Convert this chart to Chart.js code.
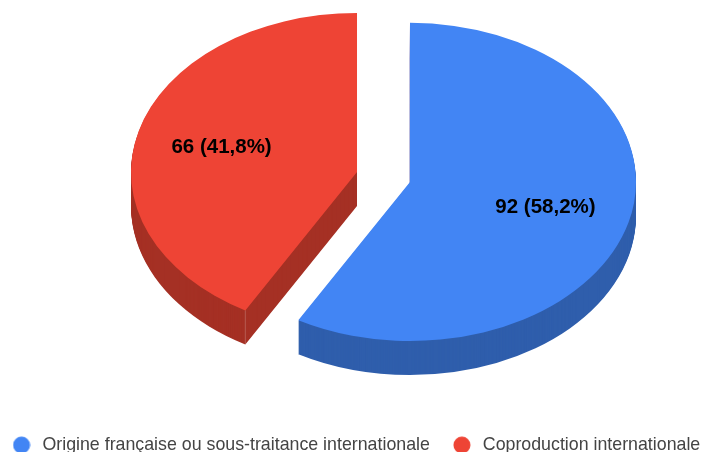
<!DOCTYPE html>
<html>
<head>
<meta charset="utf-8">
<style>
  html, body { margin: 0; padding: 0; background: #fff; overflow: hidden; }
  canvas { display: block; }
</style>
<script src="https://cdn.jsdelivr.net/npm/chart.js@4"></script>
</head>
<body>
<canvas id="pie3d" width="703" height="452"></canvas>
<script>
const categories = ['Origine française ou sous-traitance internationale', 'Coproduction internationale'];
const values = [92, 66];
const sliceLabels = ['92 (58,2%)', '66 (41,8%)'];
const topColors = ['#4285f4', '#ee4435'];
const wallColors = ['#2f5eac', '#a53024'];

// fake 3D: squash the pie and pile darker copies under it
const TILT = 0.704;
const DEPTH = 34;
const EXPLODE = 27.4;
const CENTER_X = 383.5;
const CENTER_Y = 177;
const FONT = '"Liberation Sans", Arial, sans-serif';

function pieCenter(chart) {
    const area = chart.chartArea;
    return { x: (area.left + area.right) / 2, y: (area.top + area.bottom) / 2 };
}

function tilt(ctx, chart) {
    const c = pieCenter(chart);
    ctx.translate(CENTER_X, CENTER_Y);
    ctx.scale(1, TILT);
    ctx.translate(-c.x, -c.y);
}

// round legend dot; a wide pointStyleWidth would turn the plain 'circle' into an ellipse
function legendDot(color) {
    const dot = document.createElement('canvas');
    dot.width = 18;
    dot.height = 18;
    const dc = dot.getContext('2d');
    dc.fillStyle = color;
    dc.beginPath();
    dc.arc(9, 9, 8.5, 0, Math.PI * 2);
    dc.fill();
    return dot;
}

const pie3d = {
    id: 'pie3d',
    afterLayout(chart) {
        // padding stays small while the legend measures itself or it wraps in two lines,
        // the real gap goes back in after that
        const legend = chart.legend;
        legend.options.labels.padding = 20;
        legend.top += 2;
        legend.bottom += 2;
        legend.left -= 53.2;
        legend.right += 40;
    },
    afterDatasetsUpdate(chart) {
        // chart.js's own offset also grows the radius, so pull the slices apart here
        const c = pieCenter(chart);
        chart.getDatasetMeta(0).data.forEach(arc => {
            const mid = (arc.startAngle + arc.endAngle) / 2;
            arc.x = c.x + Math.cos(mid) * EXPLODE;
            arc.y = c.y + Math.sin(mid) * EXPLODE;
        });
    },
    beforeDatasetsDraw(chart) {
        const ctx = chart.ctx;
        ctx.save();
        tilt(ctx, chart);
        chart.getDatasetMeta(0).data.forEach((arc, i) => {
            ctx.fillStyle = wallColors[i];
            for (let d = DEPTH; d > 0; d--) {
                const y = arc.y + d / TILT;
                ctx.beginPath();
                ctx.moveTo(arc.x, y);
                ctx.arc(arc.x, y, arc.outerRadius, arc.startAngle, arc.endAngle);
                ctx.closePath();
                ctx.fill();
            }
        });
    },
    afterDatasetsDraw(chart) {
        const ctx = chart.ctx;
        const arcs = chart.getDatasetMeta(0).data;
        // faint highlight on the front corner of the red slice
        const red = arcs[1];
        const cx = red.x + Math.cos(red.startAngle) * red.outerRadius;
        const cy = red.y + Math.sin(red.startAngle) * red.outerRadius;
        ctx.strokeStyle = 'rgba(255,255,255,0.25)';
        ctx.lineWidth = 1;
        ctx.beginPath();
        ctx.moveTo(cx, cy);
        ctx.lineTo(cx, cy + DEPTH / TILT);
        ctx.stroke();
        ctx.restore();

        const c = pieCenter(chart);
        ctx.save();
        ctx.font = 'bold 20.5px ' + FONT;
        ctx.fillStyle = '#000';
        ctx.textAlign = 'center';
        ctx.textBaseline = 'middle';
        arcs.forEach((arc, i) => {
            const mid = (arc.startAngle + arc.endAngle) / 2;
            const r = arc.outerRadius * 0.62;
            const x = CENTER_X + (arc.x + Math.cos(mid) * r - c.x);
            const y = CENTER_Y + (arc.y + Math.sin(mid) * r - c.y) * TILT;
            ctx.fillText(sliceLabels[i], x, y);
        });
        ctx.restore();
    }
};

new Chart(document.getElementById('pie3d').getContext('2d'), {
    type: 'pie',
    data: {
        labels: categories,
        datasets: [{
            data: values,
            backgroundColor: topColors,
            borderWidth: 0,
            clip: false
        }]
    },
    options: {
        responsive: false,
        animation: false,
        radius: 226,
        layout: { padding: 0 },
        plugins: {
            tooltip: { enabled: false },
            legend: {
                position: 'bottom',
                labels: {
                    usePointStyle: true,
                    pointStyleWidth: 24,
                    boxHeight: 12,
                    padding: 10,
                    color: '#444',
                    font: { family: FONT, size: 17.8 },
                    generateLabels(chart) {
                        const base = Chart.overrides.pie.plugins.legend.labels.generateLabels(chart);
                        return base.map((item, i) => ({ ...item, pointStyle: legendDot(topColors[i]) }));
                    }
                }
            }
        }
    },
    plugins: [pie3d]
});
</script>
</body>
</html>
